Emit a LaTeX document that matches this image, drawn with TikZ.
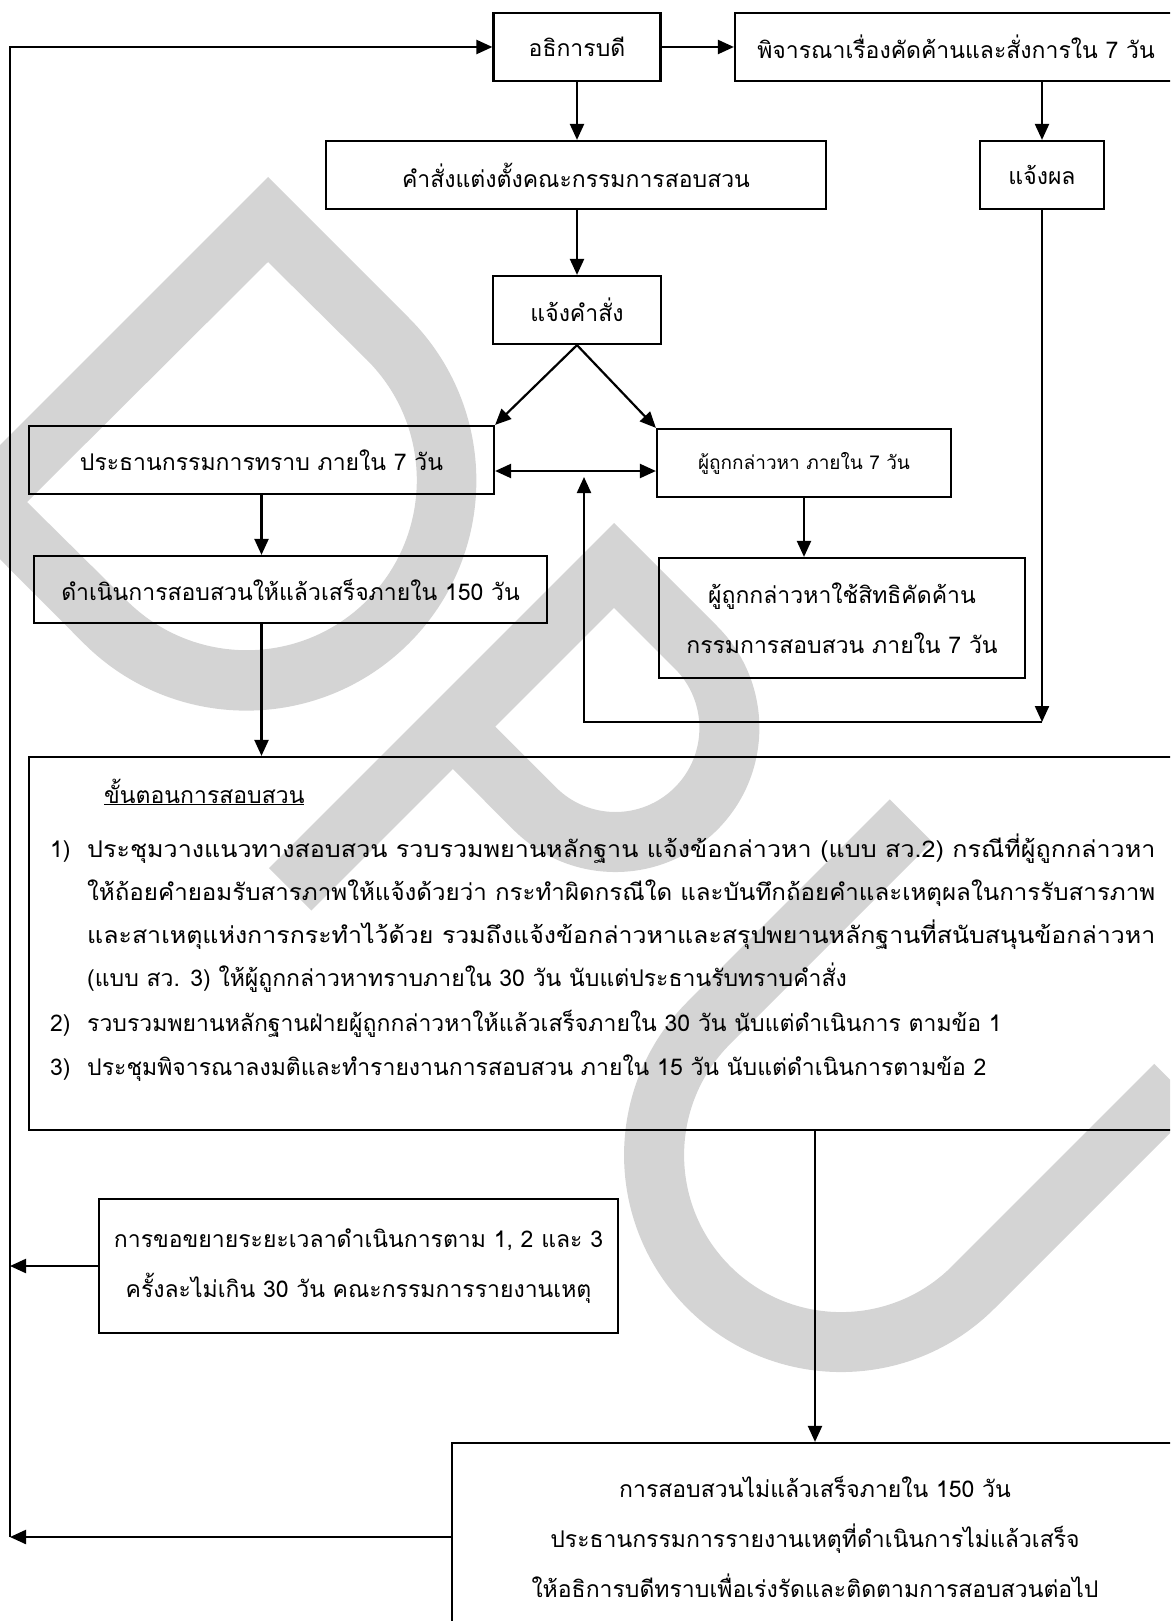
\documentclass[tikz,border=0pt]{standalone}
\usepackage{fontspec}
\usepackage{graphicx}
\setmainfont[Script=Thai]{Loma}
\usetikzlibrary{arrows.meta}

\definecolor{wmgray}{RGB}{212,212,212}
\newlength{\steplen}
\setlength{\steplen}{1068pt}

\begin{document}
\begin{tikzpicture}[x=1pt, y=-1pt,
	box/.style={draw, line width=2.2pt, inner sep=0pt, align=center,
		font=\fontsize{23}{50}\selectfont},
	arr/.style={line width=2.2pt, -{Triangle[length=16pt, width=14pt]}},
	arrs/.style={line width=2.2pt, {Triangle[length=16pt, width=14pt]}-{Triangle[length=16pt, width=14pt]}},
	steptext/.style={anchor=base west, inner sep=0pt, font=\fontsize{23}{44}\selectfont},
	]
	\useasboundingbox (0, 0) rectangle (1170, 1621);
	\clip (0, 0) rectangle (1170, 1621);

	% watermark letters D, P, U
	\fill[wmgray, even odd rule]
		(268, 177) -- (409, 318) arc[start angle=-45, end angle=135, radius=230] -- (-57, 502) -- cycle
		(268, 262) -- (367, 360) arc[start angle=-45, end angle=135, radius=170] -- (27, 502) -- cycle;
	\fill[wmgray, even odd rule]
		(614, 523) -- (717.2, 626.2) arc[start angle=-45, end angle=135, radius=144]
			-- (452.8, 769) -- (311.3, 910.5) -- (268.9, 868.1) -- cycle
		(614, 607.9) -- (674.8, 668.6) arc[start angle=-45, end angle=135, radius=84]
			-- (495.2, 726.6) -- cycle;
	\fill[wmgray]
		(889.8, 799.4) -- (687.6, 1001.6) arc[start angle=225, end angle=45, radius=217]
			-- (1196.7, 1106.3) -- (1154.3, 1063.9) -- (952.1, 1266.1)
			arc[start angle=45, end angle=225, radius=157] -- (932.2, 841.8) -- cycle;

	% boxes
	\node[box, minimum width=167, minimum height=68] (dean) at (577, 47) {อธิการบดี};
	\node[box, minimum width=442, minimum height=68] (consider) at (956, 47) {พิจารณาเรื่องคัดค้านและสั่งการใน 7 วัน};
	\node[box, minimum width=500, minimum height=68] (order) at (576, 175) {คำสั่งแต่งตั้งคณะกรรมการสอบสวน};
	\node[box, minimum width=124, minimum height=68] (result) at (1042, 175) {แจ้งผล};
	\node[box, minimum width=168, minimum height=68] (notify) at (577, 310) {แจ้งคำสั่ง};
	\node[box, minimum width=465, minimum height=68] (chair) at (261.5, 460) {ประธานกรรมการทราบ ภายใน 7 วัน};
	\node[box, minimum width=294, minimum height=68, font=\fontsize{19}{40}\selectfont] (accused) at (804, 463) {ผู้ถูกกล่าวหา ภายใน 7 วัน};
	\node[box, minimum width=513, minimum height=67] (proceed) at (290.5, 589.5) {ดำเนินการสอบสวนให้แล้วเสร็จภายใน 150 วัน};
	\node[box, minimum width=366, minimum height=120] (object) at (842, 618) {ผู้ถูกกล่าวหาใช้สิทธิคัดค้าน\\กรรมการสอบสวน ภายใน 7 วัน};
	\node[box, minimum width=1151, minimum height=373] (steps) at (604.5, 943.5) {};
	\node[box, minimum width=519, minimum height=134] (extend) at (358.5, 1266) {การขอขยายระยะเวลาดำเนินการตาม 1, 2 และ 3\\ครั้งละไม่เกิน 30 วัน คณะกรรมการรายงานเหตุ};
	\node[box, minimum width=726, minimum height=188] (late) at (815, 1537) {การสอบสวนไม่แล้วเสร็จภายใน 150 วัน\\ประธานกรรมการรายงานเหตุที่ดำเนินการไม่แล้วเสร็จ\\ให้อธิการบดีทราบเพื่อเร่งรัดและติดตามการสอบสวนต่อไป};

	% steps text
	\node[steptext] (s0) at (104, 803) {\underline{ขั้นตอนการสอบสวน}};
	\node[steptext] (n1) at (50, 857) {1)};
	\node[steptext] (s1) at (87, 857) {\resizebox{\steplen}{\height}{ประชุมวางแนวทางสอบสวน รวบรวมพยานหลักฐาน แจ้งข้อกล่าวหา (แบบ สว.2) กรณีที่ผู้ถูกกล่าวหา}};
	\node[steptext] (s2) at (87, 900) {\resizebox{\steplen}{\height}{ให้ถ้อยคำยอมรับสารภาพให้แจ้งด้วยว่า กระทำผิดกรณีใด และบันทึกถ้อยคำและเหตุผลในการรับสารภาพ}};
	\node[steptext] (s3) at (87, 943) {\resizebox{\steplen}{\height}{และสาเหตุแห่งการกระทำไว้ด้วย รวมถึงแจ้งข้อกล่าวหาและสรุปพยานหลักฐานที่สนับสนุนข้อกล่าวหา}};
	\node[steptext] (s4) at (87, 986) {(แบบ สว. 3) ให้ผู้ถูกกล่าวหาทราบภายใน 30 วัน นับแต่ประธานรับทราบคำสั่ง};
	\node[steptext] (n2) at (50, 1031) {2)};
	\node[steptext] (s5) at (87, 1031) {รวบรวมพยานหลักฐานฝ่ายผู้ถูกกล่าวหาให้แล้วเสร็จภายใน 30 วัน นับแต่ดำเนินการ ตามข้อ 1};
	\node[steptext] (n3) at (50, 1075) {3)};
	\node[steptext] (s6) at (87, 1075) {ประชุมพิจารณาลงมติและทำรายงานการสอบสวน ภายใน 15 วัน นับแต่ดำเนินการตามข้อ 2};

	% connectors
	\coordinate (lt) at (10, 47);
	\coordinate (lb) at (10, 1537);
	\coordinate (mid) at (584, 471);
	\coordinate (midb) at (584, 477);
	\coordinate (fb) at (584, 722);

	\draw[arr] (late.west) -- (lb);
	\draw[arr] (extend.west) -- (extend.west -| lb);
	\draw[arr] (lb) -- (lt) -- (dean.west);
	\draw[arr] (dean) -- (consider);
	\draw[arr] (dean.south) -- (dean.south |- order.north);
	\draw[arr] (consider.south -| result) -- (result);
	\draw[arr] (order.south -| notify) -- (notify);
	\draw[arr] (notify.south) -- (chair.north east);
	\draw[arr] (notify.south) -- (accused.north west);
	\draw[arrs] (chair.east |- mid) -- (accused.west |- mid);
	\draw[arr] (chair.south) -- (chair.south |- proceed.north);
	\draw[arr] (accused.south) -- (accused.south |- object.north);
	\draw[arr] (proceed.south -| chair.south) -- (steps.north -| chair.south);
	\draw[arr] (result) -- (result |- fb);
	\draw[arr] (result |- fb) -- (fb) -- (midb);
	\draw[arr] (steps.south -| late.north) -- (late.north);
\end{tikzpicture}
\end{document}
